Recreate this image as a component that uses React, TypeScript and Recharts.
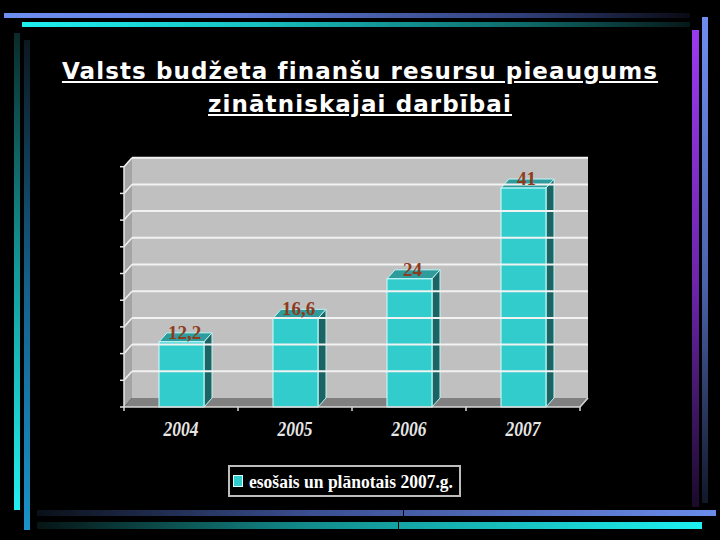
import React from 'react';
import { BarChart, Bar, XAxis, YAxis, ReferenceArea, ReferenceLine, LabelList, Legend } from 'recharts';

const years = ['2004', '2005', '2006', '2007'];
const values = [12.2, 16.6, 24, 41];
const yTicks = [0, 5, 10, 15, 20, 25, 30, 35, 40, 45];
const seriesName = 'esošais un plānotais 2007.g.';
const titleLines = ['Valsts budžeta finanšu resursu pieaugums', 'zinātniskajai darbībai'];

const data = years.map((y, i) => ({ year: y, value: values[i] }));

const DX = 8;
const DY = 9;

const fmt = (v: number) => String(v).replace('.', ',');

const Bar3D = (p: any) => {
  const { x, y, width, height } = p;
  if (width == null || height == null) return null;
  return (
    <g>
      <path
        d={`M${x},${y} L${x + DX},${y - DY} L${x + width + DX},${y - DY} L${x + width},${y} Z`}
        fill="#2E9C9C"
        stroke="#BFF5F5"
        strokeWidth={1}
      />
      <path
        d={`M${x + width},${y} L${x + width + DX},${y - DY} L${x + width + DX},${y + height - DY} L${x + width},${y + height} Z`}
        fill="#1C6464"
        stroke="#BFF5F5"
        strokeWidth={1}
      />
      <rect x={x} y={y} width={width} height={height} fill="#33CCCC" stroke="#CCFFFF" strokeWidth={1} />
    </g>
  );
};

const Walls = (p: any) => {
  const { x, y, width, height } = p;
  const b = y + height;
  return (
    <g>
      <rect x={x + DX} y={y - DY} width={width} height={height} fill="#C0C0C0" />
      <path d={`M${x},${y} L${x + DX},${y - DY} L${x + DX},${b - DY} L${x},${b} Z`} fill="#A4A4A4" />
      <path d={`M${x},${b} L${x + DX},${b - DY} L${x + width + DX},${b - DY} L${x + width},${b} Z`} fill="#808080" />
    </g>
  );
};

const WallGridLine = (p: any) => {
  const { x1, x2, y1 } = p;
  if (x1 == null || y1 == null) return <g />;
  const left = Math.min(x1, x2);
  const right = Math.max(x1, x2);
  return (
    <g>
      <line x1={left + DX} x2={right + DX} y1={y1 - DY} y2={y1 - DY} stroke="#F2F2F2" strokeWidth={2} />
      <line x1={left} x2={left + DX} y1={y1} y2={y1 - DY} stroke="#F2F2F2" strokeWidth={1.5} />
    </g>
  );
};

const XTick = (p: any) => {
  const { x, y, payload } = p;
  const off = payload && payload.offset != null ? payload.offset : 0;
  const isLast = payload && payload.index === years.length - 1;
  return (
    <g>
      <line x1={x - off} x2={x - off} y1={y} y2={y + 4} stroke="#D8D8D8" strokeWidth={1.5} />
      {isLast && <line x1={x + off} x2={x + off} y1={y} y2={y + 4} stroke="#D8D8D8" strokeWidth={1.5} />}
      {isLast && <line x1={x + off} x2={x + off + DX} y1={y} y2={y - DY} stroke="#D8D8D8" strokeWidth={1.5} />}
      <text
        x={x}
        y={y + 29}
        textAnchor="middle"
        fill="#E6E6E6"
        fontFamily="'Liberation Serif', 'DejaVu Serif', serif"
        fontStyle="italic"
        fontWeight="bold"
        fontSize={20}
        textLength={35}
        lengthAdjust="spacingAndGlyphs"
      >
        {payload.value}
      </text>
    </g>
  );
};

const ValueLabel = (p: any) => {
  const { x, y, width, value } = p;
  return (
    <text
      x={x + width / 2 + 3}
      y={y - 3}
      textAnchor="middle"
      fill="#8E3A1C"
      fontFamily="'Liberation Serif', serif"
      fontWeight="bold"
      fontSize={19}
    >
      {fmt(value)}
    </text>
  );
};

const LegendBox = () => (
  <div
    style={{
      position: 'relative',
      width: 233,
      height: 32,
      boxSizing: 'border-box',
      border: '2px solid #BDBDBD',
      background: '#000',
    }}
  >
    <div
      style={{
        position: 'absolute',
        left: 3,
        top: 8,
        width: 10,
        height: 12,
        boxSizing: 'border-box',
        background: '#33CCCC',
        border: '1px solid #D8FFFF',
      }}
    />
    <svg style={{ position: 'absolute', left: 0, top: 0, overflow: 'visible' }} width={229} height={28}>
      <text
        x={19}
        y={21}
        fill="#FFFFFF"
        fontFamily="'Liberation Serif', serif"
        fontWeight="bold"
        fontSize={18}
        textLength={204}
        lengthAdjust="spacingAndGlyphs"
      >
        {seriesName}
      </text>
    </svg>
  </div>
);

const deco = (s: React.CSSProperties) => <div style={{ position: 'absolute', ...s }} />;

export default function App() {
  return (
    <div
      style={{
        position: 'absolute',
        left: 0,
        top: 0,
        width: 720,
        height: 540,
        background: '#000',
        overflow: 'hidden',
      }}
    >
      {deco({ left: 4, top: 13, width: 686, height: 5, background: 'linear-gradient(to right, #6E8EF0 0%, #5E7CD8 35%, #30407A 75%, #0A0A14 100%)' })}
      {deco({ left: 22, top: 22, width: 668, height: 5, background: 'linear-gradient(to right, #1EF0F0 0%, #18C0C0 35%, #0E6A6A 75%, #061818 100%)' })}
      {deco({ left: 14, top: 33, width: 6, height: 477, background: 'linear-gradient(to bottom, #0A2A2A 0%, #149A9A 50%, #22F0F0 100%)' })}
      {deco({ left: 24, top: 40, width: 6, height: 490, background: 'linear-gradient(to bottom, #0C1820 0%, #14608A 50%, #1A92C8 100%)' })}
      {deco({ left: 692, top: 30, width: 7, height: 477, background: 'linear-gradient(to bottom, #9A3AF0 0%, #6A24A8 55%, #1A0A2A 100%)' })}
      {deco({ left: 702, top: 17, width: 6, height: 486, background: 'linear-gradient(to bottom, #6E8EF0 0%, #4A62A8 55%, #101828 100%)' })}
      {deco({ left: 37, top: 510, width: 679, height: 6, background: 'linear-gradient(to right, #0A1018 0%, #3A4E90 40%, #6A8CEA 100%)' })}
      {deco({ left: 403, top: 510, width: 1, height: 6, background: '#000' })}
      {deco({ left: 37, top: 522, width: 665, height: 7, background: 'linear-gradient(to right, #061414 0%, #128A8A 40%, #1EF0F0 100%)' })}
      {deco({ left: 398, top: 522, width: 1, height: 7, background: '#000' })}

      {titleLines.map((t, i) => (
        <div
          key={i}
          style={{
            position: 'absolute',
            left: 0,
            top: 55 + i * 33,
            width: 720,
            textAlign: 'center',
            color: '#FFFFFF',
            fontFamily: "'DejaVu Sans', sans-serif",
            fontWeight: 'bold',
            fontSize: 23,
            letterSpacing: 1.1,
            lineHeight: '33px',
            textDecoration: 'underline',
            whiteSpace: 'nowrap',
          }}
        >
          {t}
        </div>
      ))}

      <div style={{ position: 'absolute', left: 0, top: 0 }}>
        <BarChart
          width={720}
          height={540}
          data={data}
          margin={{ top: 166.7, right: 140, bottom: 103, left: 114 }}
        >
          <ReferenceArea y1={0} y2={45} shape={Walls} ifOverflow="visible" />
          {yTicks.slice(1).map((t) => (
            <ReferenceLine key={t} y={t} shape={WallGridLine} ifOverflow="visible" />
          ))}
          <XAxis
            dataKey="year"
            height={30}
            tickLine={false}
            tickSize={0}
            tickMargin={0}
            axisLine={{ stroke: '#D8D8D8', strokeWidth: 1.5 }}
            tick={<XTick />}
            interval={0}
          />
          <YAxis
            width={10}
            domain={[0, 45]}
            ticks={yTicks}
            interval={0}
            tickSize={4}
            tickFormatter={() => ''}
            axisLine={{ stroke: '#E6E6E6', strokeWidth: 1.5 }}
            tickLine={{ stroke: '#E6E6E6', strokeWidth: 1.5 }}
          />
          <Legend
            layout="horizontal"
            verticalAlign="middle"
            align="center"
            wrapperStyle={{ left: 228, top: 465, width: 233, height: 32 }}
            content={<LegendBox />}
          />
          <Bar
            dataKey="value"
            name={seriesName}
            barSize={45}
            shape={<Bar3D />}
            isAnimationActive={false}
          >
            <LabelList dataKey="value" content={<ValueLabel />} />
          </Bar>
        </BarChart>
      </div>
    </div>
  );
}
